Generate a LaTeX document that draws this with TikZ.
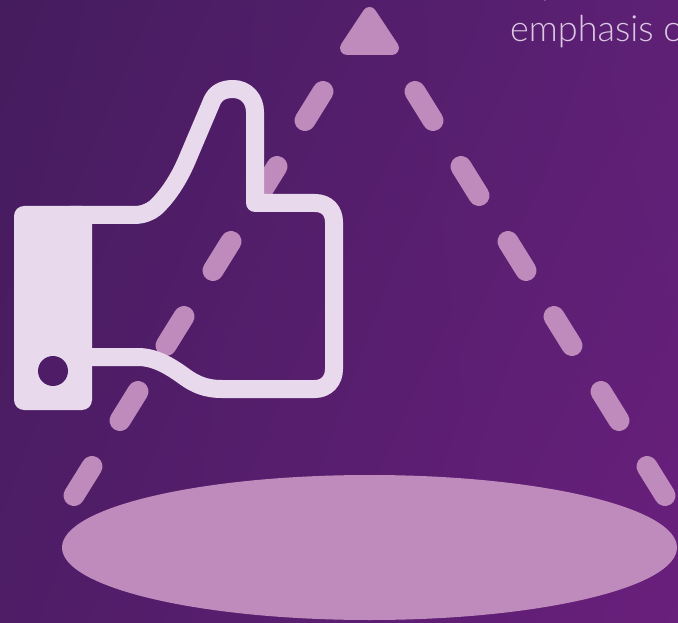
\documentclass[tikz,border=0pt]{standalone}
\usepackage{fontspec}
\usetikzlibrary{shadings}
\newfontfamily\captionfont{Lato Light}
\definecolor{bgA}{HTML}{451C5E}
\definecolor{bgR}{HTML}{5D2075}
\definecolor{bgL}{HTML}{4E1D66}
\definecolor{bgB}{HTML}{691F7C}
\definecolor{hole}{HTML}{4F1D68}
\definecolor{mauve}{HTML}{BF8ABC}
\definecolor{pale}{HTML}{E8DAEC}
\definecolor{capt}{HTML}{DCC8E2}
\tikzset{
  dashpiece/.style={draw=mauve,line width=21pt,line cap=round},
  thumbline/.style={draw=pale,line width=18pt,line join=round},
  captiontext/.style={text=capt,font=\captionfont\fontsize{36}{36}\selectfont,inner sep=0pt,anchor=base west}
}
\begin{document}
\begin{tikzpicture}[x=1pt,y=-1pt]
\useasboundingbox (0,0) rectangle (678,623);
\clip (0,0) rectangle (678,623);
\shade[upper left=bgA,lower right=bgB,upper right=bgR,lower left=bgL] (0,0) rectangle (678,623);
% top text
\node[captiontext] (t1) at (510,41.5) {emphasis o};
\node[captiontext] (t2) at (541,-5) {p};
% apex triangle
\fill[mauve,draw=mauve,line width=14pt,line join=round] (369.5,14) -- (347,48) -- (392,48) -- cycle;
% dashes
\foreach \cx/\cy in {314/106,268/181,222/256,175/331,129/406,83/481}
  \draw[dashpiece] (\cx+9,\cy-14.5) -- (\cx-9,\cy+14.5);
\foreach \cx/\cy in {424/106,470/181,517/256,563/331,610/406,656/481}
  \draw[dashpiece] (\cx-9,\cy-14.5) -- (\cx+9,\cy+14.5);
% base ellipse
\fill[mauve] (369.5,547.5) ellipse [x radius=307.5,y radius=72.5];
% thumb
\fill[pale,rounded corners=10pt] (14,206) rectangle (92,410);
\fill[hole] (53,371) circle (15);
\draw[thumbline] (70,215) -- (134,215)
  .. controls (143,215) and (150,212) .. (155,208)
  .. controls (167,197) and (178,181) .. (187,160)
  .. controls (195,141) and (204,120) .. (212,101)
  .. controls (216,92) and (224,89) .. (233,89)
  .. controls (246,89) and (255,99) .. (255,112)
  -- (255,203) -- (315,203)
  .. controls (327,203) and (334,211) .. (334,222)
  -- (334,369)
  .. controls (334,381) and (326,389) .. (315,389)
  -- (222,389)
  .. controls (205,389) and (195,384) .. (185,377)
  .. controls (170,366) and (155,357) .. (138,357)
  -- (80,357);
\end{tikzpicture}
\end{document}
